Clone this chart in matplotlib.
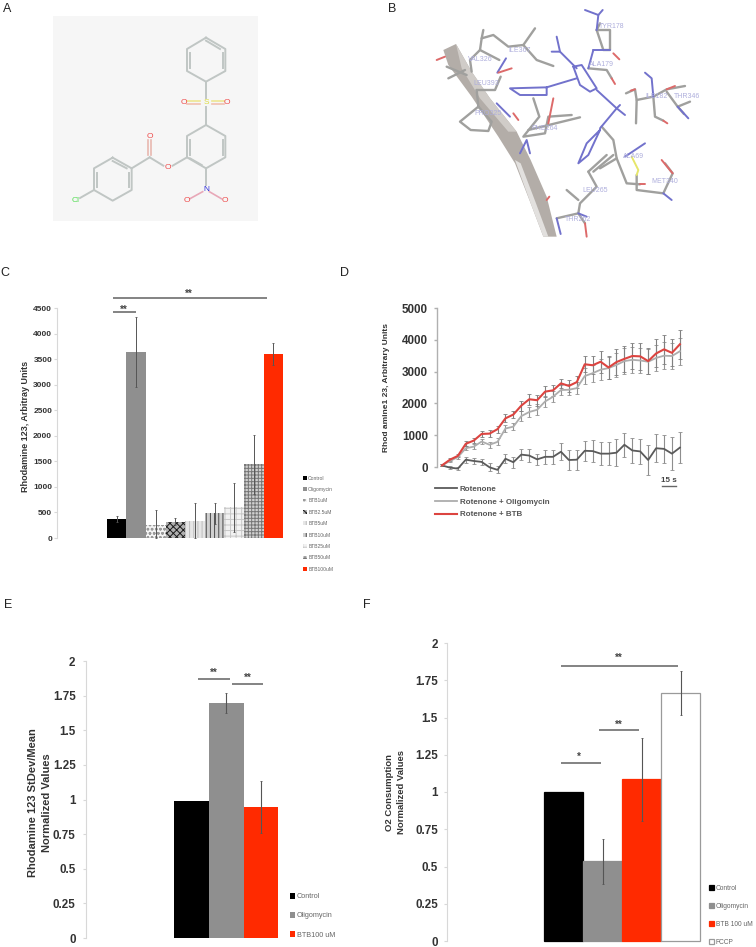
import matplotlib
matplotlib.use("Agg")
import matplotlib.pyplot as plt
from matplotlib.patches import Polygon, Rectangle

plt.rcParams["font.family"] = ["Liberation Sans", "DejaVu Sans"]
plt.rcParams["hatch.linewidth"] = 0.7

W, H = 756, 947

# --- panel C
c_labels = ["Control", "Oligomycin", "BTB1uM", "BTB2.5uM", "BTB5uM", "BTB10uM", "BTB25uM", "BTB50uM", "BTB100uM"]
c_values = [365, 3640, 260, 320, 330, 480, 600, 1440, 3600]
c_errors = [60, 680, 290, 70, 350, 200, 480, 570, 215]
c_ticks = [0, 500, 1000, 1500, 2000, 2500, 3000, 3500, 4000, 4500]

# --- panel D
d_time = list(range(31))
d_rotenone = [50, -20, -50, 230, 190, 160, -10, -90, 260, 150, 390, 360, 240, 320, 320, 480,
              220, 230, 510, 500, 420, 420, 450, 700, 520, 490, 220, 590, 570, 420, 610]
d_rotenone_err = [30, 50, 60, 100, 80, 100, 130, 110, 140, 180, 180, 200, 170, 220, 230, 260,
                  300, 310, 320, 340, 360, 370, 420, 380, 380, 390, 470, 440, 450, 520, 480]
d_oligo = [50, 190, 310, 590, 640, 800, 700, 790, 1210, 1270, 1600, 1730, 1800, 2060, 2210, 2420,
           2430, 2480, 2860, 2950, 3060, 3110, 3210, 3330, 3370, 3350, 3310, 3430, 3500, 3490, 3640]
d_oligo_err = [30, 40, 50, 70, 70, 90, 100, 110, 120, 120, 150, 170, 170, 170, 170, 150,
               180, 190, 240, 270, 330, 350, 380, 400, 400, 400, 400, 410, 420, 400, 420]
d_btb = [50, 230, 350, 730, 830, 1040, 1050, 1190, 1530, 1650, 1930, 2130, 2100, 2370, 2410, 2630,
         2550, 2670, 3230, 3200, 3310, 3130, 3300, 3400, 3490, 3480, 3330, 3570, 3700, 3590, 3860]
d_btb_err = [30, 40, 50, 80, 70, 100, 110, 110, 130, 120, 160, 170, 170, 170, 180, 150,
             190, 200, 250, 290, 350, 370, 400, 420, 420, 420, 420, 440, 450, 420, 450]
d_ticks = [0, 1000, 2000, 3000, 4000, 5000]

# --- panel E
e_labels = ["Control", "Oligomycin", "BTB100 uM"]
e_values = [0.99, 1.695, 0.945]
e_errors = [0, 0.072, 0.185]
e_ticks = [0, 0.25, 0.5, 0.75, 1, 1.25, 1.5, 1.75, 2]
e_ticklabels = ["0", "0.25", "0.5", "0.75", "1", "1.25", "1.5", "1.75", "2"]

# --- panel F
f_labels = ["Control", "Oligomycin", "BTB 100 uM", "FCCP"]
f_values = [1.0, 0.535, 1.085, 1.665]
f_errors = [0, 0.15, 0.28, 0.148]

BLACK, GREY, RED = "#000000", "#8f8f8f", "#ff2a00"
TICK_COLOR = "#333333"
ERR_COLOR = "#555555"

fig = plt.figure(figsize=(W / 100, H / 100), dpi=100, facecolor="white")

# overlay in image pixels, for the panel letters, the two illustrations and free text
overlay = fig.add_axes([0, 0, 1, 1], zorder=5)
overlay.set_xlim(0, W)
overlay.set_ylim(H, 0)
overlay.axis("off")
overlay.patch.set_visible(False)


def make_axes(left, right, y_zero, y_top, y_max, x_first, x_step, ticks, ticklabels=None,
              tick_size=8.4, tick_pad=2.5, spine="#d8d8d8", spine_w=0.8, pad=40):
    scale = (y_zero - y_top) / y_max
    bottom_px, top_px = y_zero + pad, y_top - pad
    ax = fig.add_axes([left / W, 1 - bottom_px / H, (right - left) / W, (bottom_px - top_px) / H])
    ax.set_xlim((left - x_first) / x_step, (right - x_first) / x_step)
    ax.set_ylim(-pad / scale, y_max + pad / scale)
    for name in ["top", "right", "bottom"]:
        ax.spines[name].set_visible(False)
    ax.spines["left"].set_bounds(0, y_max)
    ax.spines["left"].set_color(spine)
    ax.spines["left"].set_linewidth(spine_w)
    ax.set_xticks([])
    ax.set_yticks(ticks)
    ax.set_yticklabels(ticklabels if ticklabels else [str(t) for t in ticks],
                       fontsize=tick_size, fontweight="bold", color=TICK_COLOR)
    ax.tick_params(axis="y", length=2, width=spine_w, color=spine, pad=tick_pad)
    ax.patch.set_visible(False)
    return ax


def sig_bar(ax, x0, x1, y, stars, x_text, y_gap, size=7):
    ax.plot([x0, x1], [y, y], color="#6e6e6e", lw=1.2, solid_capstyle="butt")
    ax.text(x_text, y + y_gap, stars, ha="center", va="center", fontsize=size,
            fontweight="bold", color="#444444")


def bar_errors(ax, xs, values, errors, lw=0.8, cap=1):
    for x, v, e in zip(xs, values, errors):
        if e:
            ax.errorbar(x, v, yerr=[[min(e, v)], [e]], color=ERR_COLOR, lw=lw, capsize=cap,
                        capthick=0.6, zorder=4)


def bar_legend(ax, handles, labels, x, y, size, spacing, color="#666666"):
    leg = ax.legend(handles, labels, loc="upper left", bbox_to_anchor=(x / W, 1 - y / H),
                    bbox_transform=fig.transFigure, frameon=False, fontsize=size, borderpad=0,
                    borderaxespad=0, handlelength=0.8, handleheight=0.8, handletextpad=0.25,
                    labelspacing=spacing)
    for t in leg.get_texts():
        t.set_color(color)
    return leg


# panel letters
for letter, x, y in [("A", 3, 9), ("B", 388, 9), ("C", 0, 273), ("D", 340, 273), ("E", 4, 605), ("F", 363, 605)]:
    overlay.text(x, y, letter, fontsize=9, color="#222222", va="center", ha="left")

# ------------------------------------------------------------------
# A: molecule
# ------------------------------------------------------------------
overlay.add_patch(Rectangle((53, 16), 205, 205, facecolor="#f6f6f6", edgecolor="none"))


def z3(points, ox=0, oy=0):
    return [(px / 3 + ox, py / 3 + oy) for px, py in points]


ring_top = [(618, 113), (676, 147), (676, 213), (618, 245), (561, 213), (561, 147), (618, 113)]
ring_mid = [(618, 375), (676, 408), (676, 472), (618, 505), (561, 472), (561, 408), (618, 375)]
ring_cl = [(338, 473), (395, 505), (395, 570), (338, 602), (282, 570), (282, 505), (338, 473)]
inner_top = [(668, 160), (668, 205)], [(570, 205), (570, 160)], [(618, 122), (660, 147)]
inner_mid = [(668, 420), (668, 465)], [(570, 465), (570, 420)], [(605, 495), (570, 475)]
inner_cl = [(387, 518), (387, 562)], [(290, 562), (290, 518)], [(338, 483), (380, 505)]
bonds_a = [[(618, 245), (618, 295)], [(618, 322), (618, 375)], [(561, 472), (518, 497)],
           [(490, 497), (449, 472)], [(449, 472), (395, 505)], [(282, 570), (240, 594)],
           [(618, 505), (618, 555)]]
for line in [ring_top, ring_mid, ring_cl, *inner_top, *inner_mid, *inner_cl, *bonds_a]:
    xs, ys = zip(*z3(line))
    overlay.plot(xs, ys, color="#c0c6c4", lw=1.4)
for line, col in [([(600, 303), (562, 303)], "#eee690"), ([(636, 303), (672, 303)], "#eee690"),
                  ([(600, 313), (562, 313)], "#f0c0b0"), ([(636, 313), (672, 313)], "#f0c0b0"),
                  ([(444, 465), (444, 420)], "#e8b8b0"), ([(454, 465), (454, 420)], "#e8b8b0"),
                  ([(608, 575), (570, 596)], "#e8a8b8"), ([(628, 575), (664, 596)], "#e8a8b8")]:
    xs, ys = zip(*z3(line))
    overlay.plot(xs, ys, color=col, lw=1.2)
for atom, x, y, col, size in [("O", 552, 308, "#ee4a4a", 6), ("O", 682, 308, "#ee4a4a", 6),
                              ("S", 618, 308, "#dcdc40", 6), ("O", 504, 503, "#ee4a4a", 6),
                              ("O", 449, 408, "#ee4a4a", 6), ("Cl", 227, 601, "#55dd55", 6),
                              ("N", 618, 568, "#2828d8", 6), ("O", 561, 601, "#ee4a4a", 6),
                              ("O", 675, 601, "#ee4a4a", 6)]:
    overlay.text(x / 3, y / 3, atom, color=col, fontsize=size, ha="center", va="center")

# ------------------------------------------------------------------
# B: docking view
# ------------------------------------------------------------------
ribbon = [(190, 150), (228, 132), (275, 215), (330, 295), (410, 395), (452, 480), (500, 590),
          (530, 710), (490, 710), (452, 610), (405, 490), (355, 410), (275, 290), (205, 195)]
ribbon_light = [(405, 480), (452, 610), (490, 710), (505, 710), (468, 610), (422, 490)]
ribbon_top = [(228, 132), (275, 215), (330, 295), (410, 395), (385, 395), (300, 295), (245, 205)]
overlay.add_patch(Polygon(z3(ribbon, 380), facecolor="#b3ada8", edgecolor="none"))
overlay.add_patch(Polygon(z3(ribbon_light, 380), facecolor="#e2e0de", edgecolor="none"))
overlay.add_patch(Polygon(z3(ribbon_top, 380), facecolor="#d0ccc8", edgecolor="none"))

sticks_grey = [
    [(310, 90), (305, 115), (340, 105), (385, 140), (430, 135), (465, 85)],
    [(430, 135), (470, 180), (520, 198)],
    [(305, 115), (300, 150), (270, 180), (275, 215)],
    [(300, 150), (358, 180)],
    [(200, 200), (260, 225)], [(205, 235), (255, 210)],
    [(290, 270), (345, 270), (362, 230)],
    [(290, 270), (295, 320), (240, 365), (272, 390), (325, 393), (335, 365), (295, 320)],
    [(460, 295), (478, 350), (430, 410), (495, 400), (505, 350), (575, 345)],
    [(445, 390), (600, 352)],
    [(660, 70), (650, 90), (690, 90), (690, 150), (670, 150), (650, 90)],
    [(625, 205), (680, 210), (695, 235)],
    [(738, 280), (765, 268), (770, 300), (820, 290), (860, 268), (915, 258)],
    [(770, 300), (768, 370)], [(820, 290), (825, 350), (850, 362)],
    [(860, 275), (893, 320), (930, 305)], [(893, 320), (912, 342)],
    [(665, 380), (700, 420), (710, 475), (740, 550), (780, 553)],
    [(710, 475), (660, 505)],
    [(770, 525), (770, 570), (850, 580), (878, 520), (855, 490)],
    [(625, 515), (680, 465)], [(640, 515), (700, 465)],
    [(625, 515), (650, 560), (600, 610), (595, 640), (530, 655)],
    [(595, 600), (560, 570)], [(595, 640), (615, 670)],
]
sticks_blue = [
    [(530, 110), (540, 155), (515, 155)],
    [(540, 155), (590, 205)],
    [(580, 200), (605, 195), (650, 265), (630, 275), (600, 255), (580, 200)],
    [(650, 270), (710, 325), (735, 345)], [(710, 325), (720, 315)],
    [(710, 325), (660, 385)],
    [(660, 390), (620, 430), (595, 490), (625, 465), (660, 390)],
    [(590, 235), (500, 262), (390, 265), (420, 285), (500, 285), (500, 262)],
    [(378, 175), (352, 218)], [(350, 310), (390, 350)],
    [(420, 460), (440, 420), (450, 460)],
    [(615, 30), (655, 45), (668, 30)], [(655, 45), (650, 90)],
    [(640, 150), (690, 150)], [(640, 150), (625, 205)],
    [(820, 290), (815, 235), (795, 218)], [(893, 320), (925, 355)],
    [(850, 580), (875, 600)], [(735, 470), (795, 430)],
    [(595, 640), (620, 650)], [(530, 655), (542, 702)],
]
sticks_red = [
    [(170, 180), (195, 170)], [(355, 218), (395, 205)], [(520, 295), (505, 370)],
    [(400, 340), (415, 360)], [(695, 235), (705, 252)], [(700, 160), (718, 178)],
    [(765, 268), (752, 272)], [(850, 362), (862, 370)], [(860, 268), (885, 258)],
    [(780, 553), (795, 553)], [(878, 520), (845, 480)], [(615, 670), (620, 710)],
    [(500, 600), (508, 590)],
]
sticks_yellow = [[(755, 470), (775, 510), (770, 525)]]
for lines, col, lw in [(sticks_grey, "#a0a09e", 1.7), (sticks_blue, "#7272cc", 1.4),
                       (sticks_red, "#dd6a6a", 1.4), (sticks_yellow, "#e6e66a", 1.4)]:
    for line in lines:
        xs, ys = zip(*z3(line, 380))
        overlay.plot(xs, ys, color=col, lw=lw, solid_capstyle="round")

b_residues = ["VAL326", "ILE367", "LEU393", "PRO325", "PHE264", "TYR178", "ALA179", "ILE182",
              "THR346", "ALA69", "MET340", "LEU265", "THR262"]
b_res_x = [300, 420, 320, 325, 495, 695, 665, 830, 920, 760, 855, 645, 595]
b_res_y = [178, 150, 250, 340, 385, 78, 192, 290, 290, 470, 543, 570, 658]
for name, x, y in zip(b_residues, b_res_x, b_res_y):
    overlay.text(x / 3 + 380, y / 3, name, fontsize=5, color="#aeaedc", ha="center", va="center")

# ------------------------------------------------------------------
# C: bars with patterns
# ------------------------------------------------------------------
ax_c = make_axes(57, 300, 538, 308, 4500, 116.5, 19.6, c_ticks, tick_size=6, tick_pad=1.5)
c_pos = list(range(len(c_values)))
c_face = [BLACK, GREY, "#f4f4f4", "#b0b0b0", "#e6e6e6", "#cfcfcf", "#f2f2f2", "#d0d0d0", RED]
c_hatch = [None, None, "oooo", "xxxxx", "||||", "||||", "+++", "+++++", None]
c_hatch_col = [BLACK, GREY, "#9a9a9a", "#1a1a1a", "#bdbdbd", "#4a4a4a", "#c8c8c8", "#777777", RED]
c_bars = ax_c.bar(c_pos, c_values, width=1.0, color=c_face, hatch=c_hatch,
                  edgecolor=c_hatch_col, linewidth=0)
bar_errors(ax_c, c_pos, c_values, c_errors, lw=0.7)
sig_bar(ax_c, -0.18, 7.67, 4696, "**", 3.7, 85)
sig_bar(ax_c, -0.18, 1.0, 4422, "**", 0.38, 50)
bar_legend(ax_c, list(c_bars), c_labels, 303, 475.5, 3.6, 1.28)
overlay.text(26, 426, "Rhodamine 123, Arbitray Units", rotation=90, fontsize=6.5, fontweight="bold",
             color="#333333", ha="center", va="center")

# ------------------------------------------------------------------
# D: time course
# ------------------------------------------------------------------
ax_d = make_axes(437, 700, 467, 308, 5000, 442, 7.93, d_ticks, tick_size=8.4, tick_pad=4.5,
                 spine="#b0b0b0", spine_w=1.0)
d_handles = []
for vals, errs, col, ecol, lw, name in [
    (d_rotenone, d_rotenone_err, "#5a5a5a", "#8e8e8e", 1.3, "Rotenone"),
    (d_oligo, d_oligo_err, "#adadad", "#949494", 1.3, "Rotenone + Oligomycin"),
    (d_btb, d_btb_err, "#dc4440", "#808080", 1.5, "Rotenone + BTB"),
]:
    eb = ax_d.errorbar(d_time, vals, yerr=errs, color=col, lw=lw, ecolor=ecol, elinewidth=0.8,
                       capsize=1.2, capthick=0.6)
    eb.lines[0].set_label(name)
    d_handles.append(eb.lines[0])
leg_d = ax_d.legend(handles=d_handles, loc="upper left", bbox_to_anchor=(435 / W, 1 - 485.5 / H),
                    bbox_transform=fig.transFigure, frameon=False, borderpad=0, borderaxespad=0,
                    prop={"size": 5.8, "weight": "bold"}, handlelength=2.7, handletextpad=0.4,
                    labelspacing=0.62)
for t in leg_d.get_texts():
    t.set_color("#555555")
overlay.plot([662, 676], [486, 486], color="#666666", lw=1.0)
overlay.text(669, 480, "15 s", fontsize=5.8, fontweight="bold", color="#444444", ha="center", va="center")
overlay.text(386, 387, "Rhod amine1 23, Arbitrary Units", rotation=90, fontsize=6, fontweight="bold",
             color="#333333", ha="center", va="center")

# ------------------------------------------------------------------
# E: three bars
# ------------------------------------------------------------------
ax_e = make_axes(86, 340, 938, 661, 2, 191.4, 34.8, e_ticks, e_ticklabels, tick_size=8.4, tick_pad=5.5)
e_pos = list(range(len(e_values)))
e_bars = ax_e.bar(e_pos, e_values, width=1.0, color=[BLACK, GREY, RED], linewidth=0)
bar_errors(ax_e, e_pos, e_values, e_errors)
sig_bar(ax_e, 0.19, 1.11, 1.87, "**", 0.65, 0.045)
sig_bar(ax_e, 1.17, 2.06, 1.834, "**", 1.62, 0.045)
bar_legend(ax_e, list(e_bars), e_labels, 289.5, 893, 5.2, 1.65)
overlay.text(33, 803, "Rhodamine 123 StDev/Mean", rotation=90, fontsize=8, fontweight="bold",
             color="#333333", ha="center", va="center")
overlay.text(47, 803, "Normalized Values", rotation=90, fontsize=8, fontweight="bold",
             color="#333333", ha="center", va="center")

# ------------------------------------------------------------------
# F: four bars
# ------------------------------------------------------------------
f_ticks = e_ticks
ax_f = make_axes(447, 754, 941, 643, 2, 563.8, 38.9, f_ticks, e_ticklabels, tick_size=8.4, tick_pad=4.5)
f_pos = list(range(len(f_values)))
f_bars = ax_f.bar(f_pos, f_values, width=1.0, color=[BLACK, GREY, RED, "#ffffff"],
                  edgecolor=[BLACK, GREY, RED, "#9a9a9a"], linewidth=0.9)
bar_errors(ax_f, f_pos, f_values, f_errors)
sig_bar(ax_f, -0.07, 2.93, 1.846, "**", 1.42, 0.055)
sig_bar(ax_f, 0.905, 1.93, 1.416, "**", 1.42, 0.035)
sig_bar(ax_f, -0.07, 0.96, 1.195, "*", 0.39, 0.04)
bar_legend(ax_f, list(f_bars), f_labels, 708.5, 884.5, 4.8, 1.65)
overlay.text(390, 792, "O2 Consumption", rotation=90, fontsize=6.8, fontweight="bold",
             color="#333333", ha="center", va="center")
overlay.text(402, 792, "Normalized Values", rotation=90, fontsize=6.8, fontweight="bold",
             color="#333333", ha="center", va="center")

fig.savefig("out.png", dpi=100, facecolor="white")
